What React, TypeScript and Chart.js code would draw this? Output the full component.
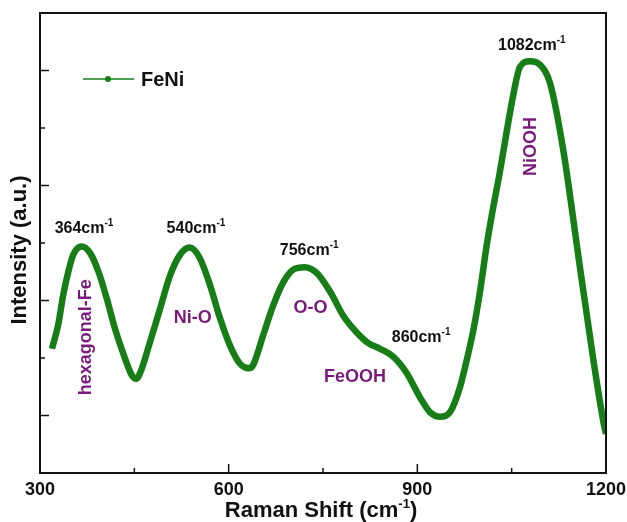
import React, { useEffect, useRef } from "react";
import { Chart, registerables } from "chart.js";

Chart.register(...registerables);

// Raman spectrum of FeNi
const ramanShift = [
  319, 329, 337, 345, 353, 366, 380, 393, 406, 419, 433, 446, 453, 460, 475, 491,
  507, 523, 538, 554, 570, 586, 602, 618, 632, 639, 655, 671, 687, 703, 721, 740,
  761, 782, 804, 822, 841, 862, 883, 904, 920, 936, 952, 968, 981, 989, 1000, 1010,
  1021, 1029, 1053, 1063, 1079, 1095, 1111, 1132, 1157, 1180, 1196, 1200,
];
const intensity = [
  1.08, 1.29, 1.55, 1.75, 1.90, 1.97, 1.91, 1.75, 1.52, 1.26, 1.03, 0.85, 0.82, 0.88, 1.14, 1.43,
  1.72, 1.90, 1.96, 1.87, 1.64, 1.35, 1.11, 0.95, 0.91, 0.94, 1.20, 1.46, 1.66, 1.77, 1.79, 1.74,
  1.58, 1.37, 1.22, 1.13, 1.08, 1.01, 0.87, 0.66, 0.53, 0.49, 0.53, 0.75, 1.04, 1.24, 1.59, 1.97,
  2.32, 2.55, 3.30, 3.53, 3.58, 3.55, 3.39, 2.81, 1.85, 0.98, 0.44, 0.34,
];

const seriesName = "FeNi";
const xMin = 300;
const xMax = 1200;
const xTickLabels = ["300", "600", "900", "1200"];
const yMin = 0;
const yMax = 4;

// peak labels: base text, superscript, anchor (x value, baseline y value)
const peakTexts = ["364cm", "540cm", "756cm", "860cm", "1082cm"];
const peakAnchorX = [370, 548, 728, 906, 1082];
const peakAnchorY = [2.09, 2.09, 1.9, 1.14, 3.68];

// assignment labels: text, anchor (x value, centre y value), rotation
const assignTexts = ["hexagonal-Fe", "Ni-O", "O-O", "FeOOH", "NiOOH"];
const assignAnchorX = [372, 543, 730, 801, 1079];
const assignAnchorY = [1.18, 1.36, 1.44, 0.84, 2.84];
const assignRotated = [true, false, false, false, true];

const FONT = '"Liberation Sans", Arial, sans-serif';
const GREEN = "#177d17";
const PURPLE = "#7a1a7c";

function drawSegments(
  ctx: CanvasRenderingContext2D,
  segs: { t: string; sup?: boolean }[],
  x: number,
  y: number,
  size: number,
  align: "left" | "center"
) {
  const supSize = Math.round(size * 0.6);
  const widths = segs.map((s) => {
    ctx.font = `bold ${s.sup ? supSize : size}px ${FONT}`;
    return ctx.measureText(s.t).width;
  });
  const total = widths.reduce((a, b) => a + b, 0);
  let cx = align === "center" ? x - total / 2 : x;
  ctx.textAlign = "left";
  ctx.textBaseline = "alphabetic";
  segs.forEach((s, i) => {
    ctx.font = `bold ${s.sup ? supSize : size}px ${FONT}`;
    ctx.fillText(s.t, cx, s.sup ? y - size * 0.42 : y);
    cx += widths[i];
  });
}

const decorPlugin = {
  id: "decor",
  afterDatasetsDraw(chart: any) {
    const { ctx, chartArea: a, scales } = chart;
    const sx = scales.x;
    const sy = scales.y;
    ctx.save();

    // frame
    ctx.strokeStyle = "#111";
    ctx.lineWidth = 2;
    ctx.strokeRect(a.left, a.top, a.right - a.left, a.bottom - a.top);

    // inward ticks
    ctx.lineWidth = 1.5;
    sx.ticks.forEach((t: any) => {
      const v = t.value;
      if (v <= xMin || v >= xMax) return;
      const px = sx.getPixelForValue(v);
      const len = v % 300 === 0 ? 9 : 5;
      ctx.beginPath();
      ctx.moveTo(px, a.bottom);
      ctx.lineTo(px, a.bottom - len);
      ctx.stroke();
    });
    sy.ticks.forEach((t: any) => {
      const v = t.value;
      if (v <= yMin || v >= yMax) return;
      const py = sy.getPixelForValue(v);
      const major = Math.abs(v - Math.floor(v) - 0.5) < 1e-6;
      const len = major ? 9 : 5;
      ctx.beginPath();
      ctx.moveTo(a.left, py);
      ctx.lineTo(a.left + len, py);
      ctx.stroke();
    });

    // legend
    const ly = a.top + 66;
    const lx = a.left + 43;
    ctx.strokeStyle = GREEN;
    ctx.lineWidth = 1.5;
    ctx.beginPath();
    ctx.moveTo(lx, ly);
    ctx.lineTo(lx + 51, ly);
    ctx.stroke();
    ctx.fillStyle = GREEN;
    ctx.beginPath();
    ctx.arc(lx + 25, ly, 3, 0, Math.PI * 2);
    ctx.fill();
    ctx.fillStyle = "#111";
    ctx.font = `bold 20px ${FONT}`;
    ctx.textAlign = "left";
    ctx.textBaseline = "middle";
    ctx.fillText(seriesName, lx + 58, ly + 1);

    // peak labels
    ctx.fillStyle = "#111";
    peakTexts.forEach((t, i) => {
      const px = sx.getPixelForValue(peakAnchorX[i]);
      const py = sy.getPixelForValue(peakAnchorY[i]);
      drawSegments(ctx, [{ t }, { t: "-1", sup: true }], px, py, 16, "center");
    });

    // assignment labels
    ctx.fillStyle = PURPLE;
    ctx.font = `bold 18px ${FONT}`;
    ctx.textAlign = "center";
    ctx.textBaseline = "middle";
    assignTexts.forEach((t, i) => {
      const px = sx.getPixelForValue(assignAnchorX[i]);
      const py = sy.getPixelForValue(assignAnchorY[i]);
      ctx.save();
      ctx.translate(px, py);
      if (assignRotated[i]) ctx.rotate(-Math.PI / 2);
      ctx.fillText(t, 0, 1);
      ctx.restore();
    });

    // axis titles
    ctx.fillStyle = "#111";
    const xtCenter = (a.left + a.right) / 2 - 2;
    drawSegments(
      ctx,
      [{ t: "Raman Shift (cm" }, { t: "-1", sup: true }, { t: ")" }],
      xtCenter,
      a.bottom + 44,
      22,
      "center"
    );
    ctx.save();
    ctx.translate(20, (a.top + a.bottom) / 2 + 7);
    ctx.rotate(-Math.PI / 2);
    ctx.font = `bold 22px ${FONT}`;
    ctx.textAlign = "center";
    ctx.textBaseline = "middle";
    ctx.fillText("Intensity (a.u.)", 0, 0);
    ctx.restore();

    ctx.restore();
  },
};

export default function App() {
  const canvasRef = useRef<HTMLCanvasElement | null>(null);

  useEffect(() => {
    document.body.style.margin = "0";
    if (!canvasRef.current) return;
    const points = ramanShift.map((x, i) => ({ x, y: intensity[i] }));
    const chart = new Chart(canvasRef.current, {
      type: "line",
      data: {
        datasets: [
          {
            label: seriesName,
            data: points,
            borderColor: GREEN,
            borderWidth: 6.5,
            pointRadius: 0,
            cubicInterpolationMode: "monotone",
            fill: false,
          },
          {
            label: seriesName + " highlight",
            data: points,
            borderColor: "rgba(95,175,95,0.85)",
            borderWidth: 1.3,
            pointRadius: 0,
            cubicInterpolationMode: "monotone",
            fill: false,
          },
        ],
      },
      options: {
        animation: false,
        responsive: true,
        maintainAspectRatio: false,
        layout: { padding: { top: 13, right: 21, left: 0, bottom: 0 } },
        plugins: {
          legend: { display: false },
          tooltip: { enabled: false },
        },
        scales: {
          x: {
            type: "linear",
            min: xMin,
            max: xMax,
            grid: { display: false, drawTicks: false },
            border: { display: false },
            ticks: {
              stepSize: 150,
              autoSkip: false,
              maxRotation: 0,
              padding: 6,
              color: "#111",
              font: { family: FONT, size: 18, weight: "bold" },
              callback: (v: any) => {
                const s = String(v);
                return xTickLabels.includes(s) ? s : "";
              },
            },
            afterFit: (scale: any) => {
              scale.height = 49;
              scale.paddingLeft = 0;
              scale.paddingRight = 0;
            },
          },
          y: {
            type: "linear",
            min: yMin,
            max: yMax,
            grid: { display: false, drawTicks: false },
            border: { display: false },
            ticks: { display: false, stepSize: 0.5 },
            afterFit: (scale: any) => {
              scale.width = 40;
              scale.paddingTop = 0;
              scale.paddingBottom = 0;
            },
          },
        },
      },
      plugins: [decorPlugin],
    });
    return () => chart.destroy();
  }, []);

  return (
    <div style={{ position: "relative", width: 627, height: 522, background: "#fff" }}>
      <canvas ref={canvasRef} />
    </div>
  );
}
